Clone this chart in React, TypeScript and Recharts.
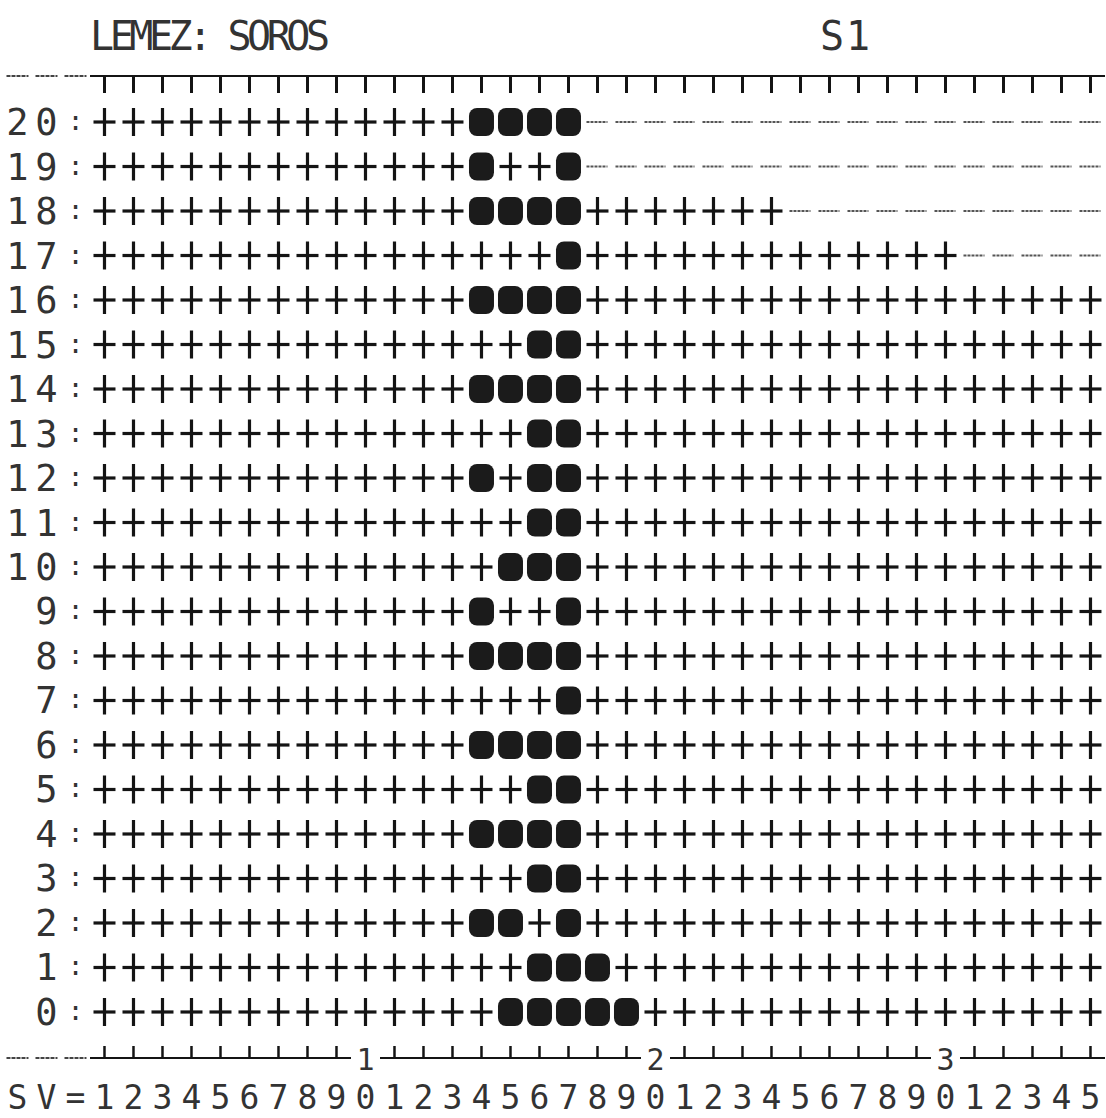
import { ScatterChart, Scatter, XAxis, YAxis } from 'recharts'

// column numbers (SV) and row numbers as printed
const columns = [
  1, 2, 3, 4, 5, 6, 7, 8, 9, 10, 11, 12, 13, 14, 15, 16, 17, 18,
  19, 20, 21, 22, 23, 24, 25, 26, 27, 28, 29, 30, 31, 32, 33, 34, 35,
]
const rowValues = [0, 1, 2, 3, 4, 5, 6, 7, 8, 9, 10, 11, 12, 13, 14, 15, 16, 17, 18, 19, 20]

// filled cells per row (index = row number)
const dotCols: number[][] = [
  [15, 16, 17, 18, 19],
  [16, 17, 18],
  [14, 15, 17],
  [16, 17],
  [14, 15, 16, 17],
  [16, 17],
  [14, 15, 16, 17],
  [17],
  [14, 15, 16, 17],
  [14, 17],
  [15, 16, 17],
  [16, 17],
  [14, 16, 17],
  [16, 17],
  [14, 15, 16, 17],
  [16, 17],
  [14, 15, 16, 17],
  [17],
  [14, 15, 16, 17],
  [14, 17],
  [14, 15, 16, 17],
]

// last printed column per row, past it the row is empty (dashes)
const lastCol = [35, 35, 35, 35, 35, 35, 35, 35, 35, 35, 35, 35, 35, 35, 35, 35, 35, 30, 24, 17, 17]

// leading characters of the SV line, sitting at columns -2, -1, 0
const svPrefix = ['S', 'V', '=']
const titleLeft = 'LEMEZ: SOROS'
const titleRight = 'S1'

const X_MIN = -2.603
const X_MAX = 35.535
const Y_MIN = -1.034
const Y_MAX = 21.034
const CELL = 29
const INK = '#141414'
const TEXT = '#333'
const FONT = '"DejaVu Sans Mono", monospace'

type Pt = { x: number; y: number; ch?: string }

const crosses: Pt[] = []
const dots: Pt[] = []
const blanks: Pt[] = []
const labels: Pt[] = []

rowValues.forEach((r) => {
  columns.forEach((c) => {
    if (c > lastCol[r]) blanks.push({ x: c, y: r })
    else if (dotCols[r].includes(c)) dots.push({ x: c, y: r })
    else crosses.push({ x: c, y: r })
  })
  const txt = String(r).padStart(2, ' ') + ':'
  txt.split('').forEach((ch, i) => {
    if (ch !== ' ') labels.push({ x: i - 2, y: r, ch })
  })
})

const axisTicks = [-2, -1, 0, ...columns]

const CrossShape = (p: any) => (
  <g stroke={INK} strokeWidth={3.2}>
    <line x1={p.cx - 11} x2={p.cx + 11} y1={p.cy} y2={p.cy} />
    <line x1={p.cx} x2={p.cx} y1={p.cy - 14} y2={p.cy + 14} />
  </g>
)

const DotShape = (p: any) => (
  <rect x={p.cx - 12.5} y={p.cy - 14} width={25} height={28} rx={8} fill="#1b1b1b" />
)

const BlankShape = (p: any) => (
  <line
    x1={p.cx - 11}
    x2={p.cx + 10}
    y1={p.cy}
    y2={p.cy}
    stroke="#555"
    strokeWidth={2}
    strokeDasharray="3 1"
  />
)

const LabelShape = (p: any) => {
  const ch = p.payload.ch
  const colon = ch === ':'
  return (
    <text
      x={p.cx}
      y={colon ? p.cy + 8 : p.cy + 13}
      textAnchor="middle"
      fontFamily={FONT}
      fontSize={colon ? 26 : 37}
      fill={TEXT}
    >
      {ch}
    </text>
  )
}

const TopTick = (p: any) => {
  const v = p.payload.value
  const { x, y } = p
  if (v <= 0) {
    return <line x1={x - 11} x2={x + 11} y1={y} y2={y} stroke="#444" strokeWidth={2} strokeDasharray="4 1" />
  }
  return (
    <g stroke={INK}>
      <line x1={x - CELL / 2} x2={x + CELL / 2} y1={y} y2={y} strokeWidth={2} />
      <line x1={x} x2={x} y1={y} y2={y + 17} strokeWidth={3} />
    </g>
  )
}

const BottomTick = (p: any) => {
  const v = p.payload.value
  const { x, y } = p
  const sv = v <= 0 ? svPrefix[v + 2] : String(v % 10)
  let mark
  if (v <= 0) {
    mark = <line x1={x - 11} x2={x + 11} y1={y} y2={y} stroke="#444" strokeWidth={2} strokeDasharray="4 1" />
  } else if (v % 10 === 0) {
    mark = (
      <text x={x} y={y + 12} textAnchor="middle" fontFamily={FONT} fontSize={30} fill={TEXT}>
        {v / 10}
      </text>
    )
  } else {
    mark = (
      <g stroke={INK}>
        <line x1={x - CELL / 2} x2={x + CELL / 2} y1={y} y2={y} strokeWidth={2} />
        <line x1={x} x2={x} y1={y} y2={y - 12} strokeWidth={2.5} />
      </g>
    )
  }
  return (
    <g>
      {mark}
      <text x={x} y={y + 51} textAnchor="middle" fontFamily={FONT} fontSize={33} fill={TEXT}>
        {sv}
      </text>
    </g>
  )
}

export default function App() {
  return (
    <div style={{ position: 'absolute', left: 0, top: 0, width: 1106, height: 1118, background: '#fff' }}>
      <svg width={1106} height={70} style={{ position: 'absolute', left: 0, top: 0 }}>
        <text x={90} y={50} fontFamily={FONT} fontSize={40} fill={TEXT} textLength={240} lengthAdjust="spacing">
          {titleLeft}
        </text>
        <text x={820} y={50} fontFamily={FONT} fontSize={40} fill={TEXT} textLength={50} lengthAdjust="spacing">
          {titleRight}
        </text>
      </svg>
      <ScatterChart width={1106} height={1118} margin={{ top: 0, right: 0, bottom: 0, left: 0 }}>
        <XAxis
          type="number"
          dataKey="x"
          domain={[X_MIN, X_MAX]}
          ticks={axisTicks}
          interval={0}
          height={60}
          axisLine={false}
          tickLine={false}
          tickSize={0}
          tickMargin={0}
          tick={(p: any) => <BottomTick {...p} />}
          allowDataOverflow
        />
        <XAxis
          xAxisId="top"
          orientation="top"
          type="number"
          dataKey="x"
          domain={[X_MIN, X_MAX]}
          ticks={axisTicks}
          interval={0}
          height={76}
          axisLine={false}
          tickLine={false}
          tickSize={0}
          tickMargin={0}
          tick={(p: any) => <TopTick {...p} />}
          allowDataOverflow
        />
        <YAxis type="number" dataKey="y" domain={[Y_MIN, Y_MAX]} hide allowDataOverflow />
        <Scatter data={blanks} shape={BlankShape} isAnimationActive={false} />
        <Scatter data={crosses} shape={CrossShape} isAnimationActive={false} />
        <Scatter data={dots} shape={DotShape} isAnimationActive={false} />
        <Scatter data={labels} shape={LabelShape} isAnimationActive={false} />
      </ScatterChart>
    </div>
  )
}
